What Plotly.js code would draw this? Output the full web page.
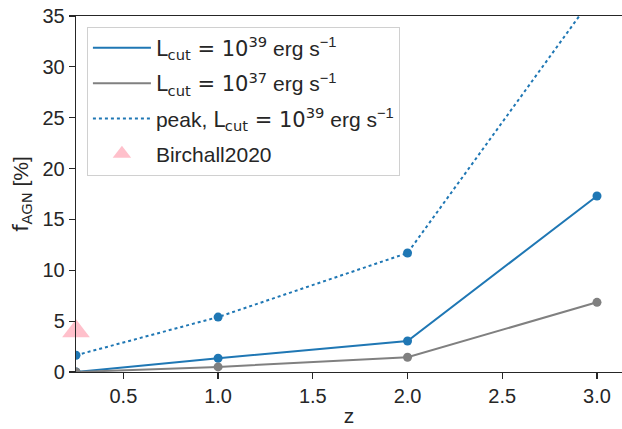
<!DOCTYPE html>
<html>
<head>
<meta charset="utf-8">
<script src="https://cdn.plot.ly/plotly-3.0.1.min.js"></script>
<style>html,body{margin:0;padding:0;background:#fff;}#chart{width:622px;height:429px;}</style>
</head>
<body>
<div id="chart"></div>
<script>
// Data
var z = [0.25, 1.0, 2.0, 3.0];
var fL39 = [0.0, 1.35, 3.05, 17.3];
var fL37 = [0.0, 0.5, 1.45, 6.85];
var fPeakL39 = [1.65, 5.4, 11.7, 37.4];
var birchallZ = [0.25];
var birchallF = [4.0];

var M = '<span style="font-family:DejaVu Sans">';
var nameL39 = M + 'L<sub>cut</sub> = 10<sup>39</sup></span> erg s<sup>\u22121</sup>';
var nameL37 = M + 'L<sub>cut</sub> = 10<sup>37</sup></span> erg s<sup>\u22121</sup>';
var namePeak = 'peak, ' + M + 'L<sub>cut</sub> = 10<sup>39</sup></span> erg s<sup>\u22121</sup>';
var nameBirchall = 'Birchall2020';
var yTitle = M + 'f<sub>AGN</sub></span> [%]';

var blue = '#1f77b4', grey = '#808080', pink = '#ffc0cb', ink = '#262626';

var traces = [
  {x: z, y: fL39, mode: 'lines', name: nameL39, legendgroup: 'a', line: {color: blue, width: 2}},
  {x: z, y: fL37, mode: 'lines', name: nameL37, legendgroup: 'b', line: {color: grey, width: 2}},
  {x: z, y: fPeakL39, mode: 'lines', name: namePeak, legendgroup: 'c', line: {color: blue, width: 2, dash: 'dot'}},
  {x: birchallZ, y: birchallF, mode: 'markers', name: nameBirchall, legendgroup: 'd', cliponaxis: false,
   marker: {symbol: 'triangle-up', size: 24, color: pink}},
  {x: z, y: fL39, mode: 'markers', showlegend: false, legendgroup: 'a', marker: {color: blue, size: 9}},
  {x: z, y: fL37, mode: 'markers', showlegend: false, legendgroup: 'b', marker: {color: grey, size: 9}},
  {x: z, y: fPeakL39, mode: 'markers', showlegend: false, legendgroup: 'c', marker: {color: blue, size: 9}}
];

var layout = {
  width: 622, height: 429,
  margin: {l: 76, r: 0, t: 16, b: 57, pad: 0},
  paper_bgcolor: '#fff', plot_bgcolor: '#fff',
  font: {family: 'Liberation Sans, Arial, sans-serif', size: 20, color: ink},
  showlegend: true,
  legend: {
    x: 0.02, y: 0.97, xanchor: 'left', yanchor: 'top',
    bgcolor: 'rgba(255,255,255,0.8)', bordercolor: '#d0d0d0', borderwidth: 1,
    font: {size: 21, color: ink}, itemwidth: 58, tracegroupgap: 5, traceorder: 'grouped'
  },
  xaxis: {
    range: [0.25, 3.132], tickvals: [0.5, 1.0, 1.5, 2.0, 2.5, 3.0],
    ticktext: ['0.5', '1.0', '1.5', '2.0', '2.5', '3.0'],
    showgrid: false, zeroline: false, showline: true, linecolor: ink, linewidth: 1.25,
    mirror: true, ticks: 'outside', ticklen: 6, tickwidth: 1.25, tickcolor: ink,
    tickfont: {size: 20},
    title: {text: 'z', font: {size: 21}, standoff: 2}
  },
  yaxis: {
    range: [0, 35], tickvals: [0, 5, 10, 15, 20, 25, 30, 35],
    showgrid: false, zeroline: false, showline: true, linecolor: ink, linewidth: 1.25,
    ticks: 'outside', ticklen: 6, tickwidth: 1.25, tickcolor: ink,
    tickfont: {size: 20},
    title: {text: yTitle, font: {size: 21}, standoff: 8}
  }
};

Plotly.newPlot('chart', traces, layout, {displayModeBar: false, staticPlot: true});
</script>
</body>
</html>
